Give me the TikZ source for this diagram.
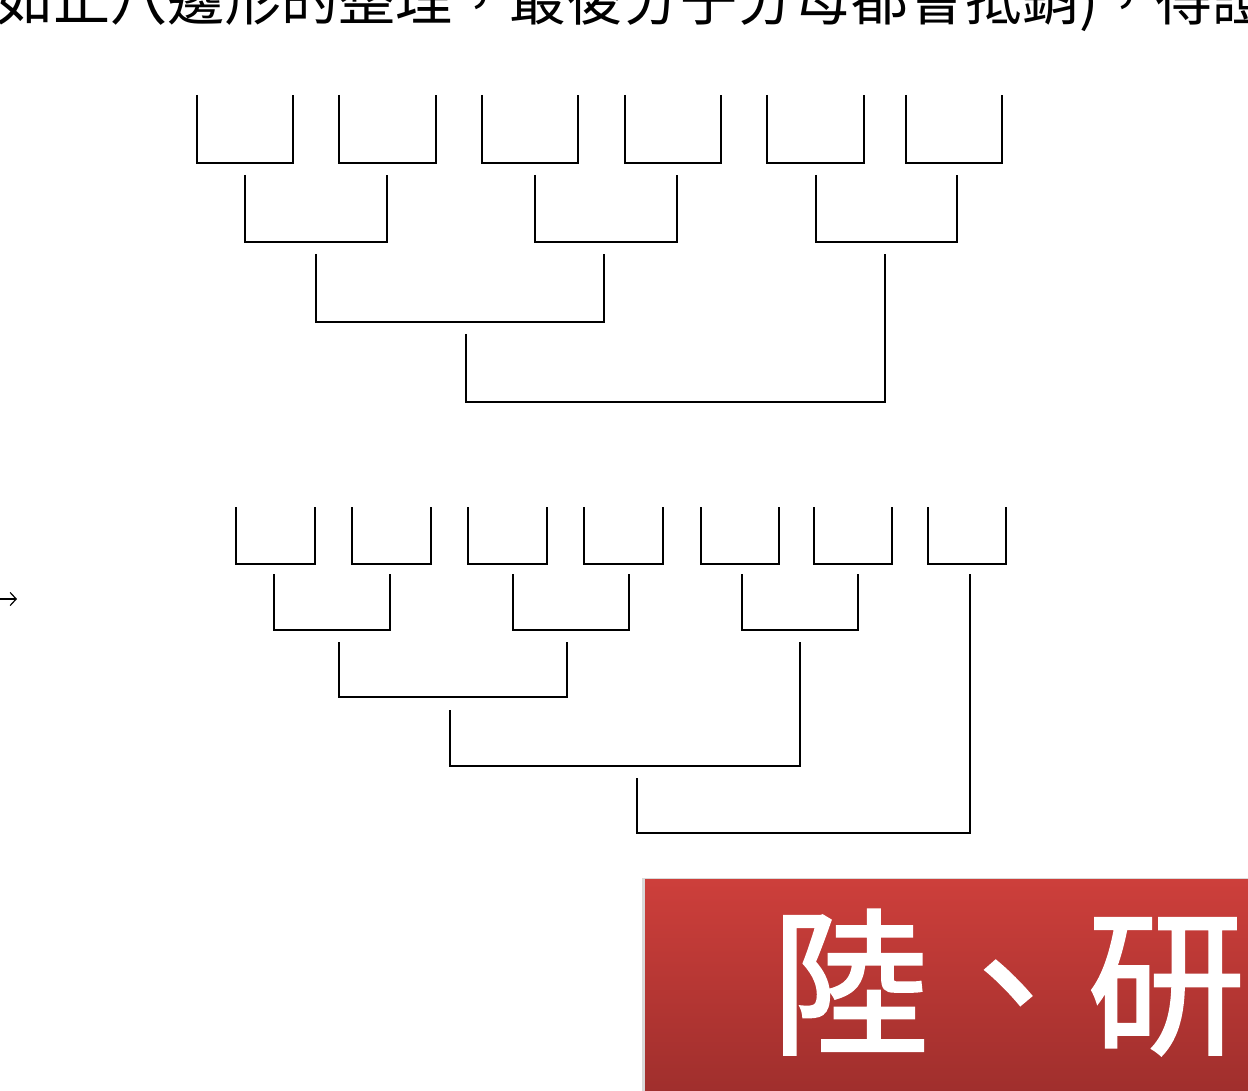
\documentclass[tikz,border=0pt]{standalone}
\usepackage{fontspec}
\newfontfamily\cjk{Noto Sans CJK TC}
\newfontfamily\cjkheavy[FakeBold=1.5]{Noto Sans CJK TC}
\usetikzlibrary{arrows.meta}
\definecolor{redtop}{HTML}{CD3F3B}
\definecolor{redbot}{HTML}{9E2E2C}
\newcommand\bkt[5]{\draw[br] (#1,#2) -- (#1,#5) -- (#3,#5) -- (#3,#4);}
\begin{document}
\begin{tikzpicture}[x=1pt,y=-1pt,
  br/.style={line width=1.9pt, black, line join=miter}]
\useasboundingbox (0,0) rectangle (1248,1091);
\clip (0,0) rectangle (1248,1091);
\fill[white] (0,0) rectangle (1248,1091);

% heading line (cut at top, as in the reference)
\node[anchor=base west, inner sep=0, font=\cjk\fontsize{57}{57}\selectfont] (title) at (-4,21)
  {如正八邊形的整理，最後分子分母都會抵銷)，得證};

% ---------- top tree ----------
\bkt{197}{95}{293}{95}{163}
\bkt{339}{95}{436}{95}{163}
\bkt{482}{95}{578}{95}{163}
\bkt{625}{95}{721}{95}{163}
\bkt{767}{95}{864}{95}{163}
\bkt{906}{95}{1002}{95}{163}
\bkt{245}{175}{387}{175}{242}
\bkt{535}{175}{677}{175}{242}
\bkt{816}{175}{957}{175}{242}
\bkt{316}{254}{604}{254}{322}
\bkt{466}{334}{885}{254}{402}

% ---------- arrow ----------
\coordinate (ar0) at (0,599);
\coordinate (ar1) at (17,599);
\draw[line width=1.2pt, -{Straight Barb[length=6pt,width=13pt]}] (ar0) -- (ar1);

% ---------- bottom tree ----------
\bkt{236}{507}{315}{507}{564}
\bkt{352}{507}{431}{507}{564}
\bkt{468}{507}{547}{507}{564}
\bkt{584}{507}{663}{507}{564}
\bkt{701}{507}{779}{507}{564}
\bkt{814}{507}{892}{507}{564}
\bkt{928}{507}{1006}{507}{564}
\bkt{274}{574}{390}{574}{630}
\bkt{513}{574}{629}{574}{630}
\bkt{742}{574}{858}{574}{630}
\bkt{339}{642}{567}{642}{697}
\bkt{450}{710}{800}{642}{766}
\bkt{637}{778}{970}{574}{833}

% ---------- red title box ----------
\fill[black!15] (642,878) rectangle (1260,1100);
\shade[top color=redtop, bottom color=redbot] (645,879) rectangle (1260,1100);
\node[anchor=base west, inner sep=0, text=white, font=\cjkheavy\fontsize{158}{158}\selectfont] (head) at (771,1042)
  {陸、研};
\end{tikzpicture}
\end{document}
